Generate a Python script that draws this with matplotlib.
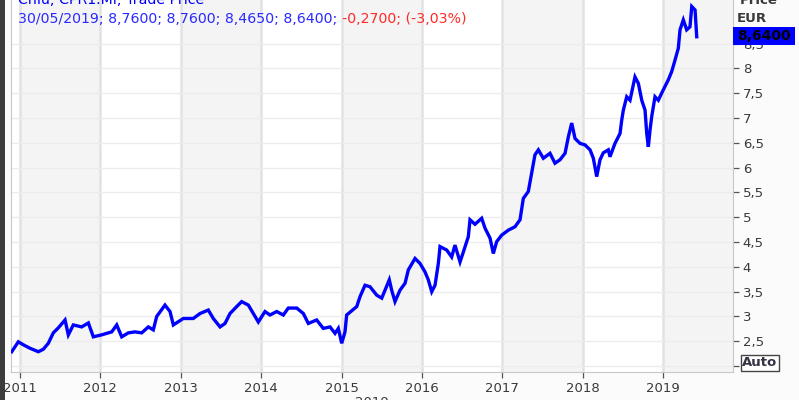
import matplotlib

matplotlib.use("Agg")
import matplotlib.pyplot as plt
from matplotlib.patches import Rectangle
from matplotlib.ticker import FuncFormatter

# decimal year / close price
years = [
    2010.897, 2010.979, 2011.041, 2011.124, 2011.228, 2011.290, 2011.352, 2011.414,
    2011.476, 2011.560, 2011.601, 2011.663, 2011.767, 2011.850, 2011.912, 2012.016,
    2012.141, 2012.203, 2012.265, 2012.347, 2012.430, 2012.514, 2012.596, 2012.658,
    2012.700, 2012.803, 2012.866, 2012.907, 2013.031, 2013.155, 2013.239, 2013.342,
    2013.404, 2013.488, 2013.550, 2013.612, 2013.695, 2013.757, 2013.840, 2013.902,
    2013.964, 2014.047, 2014.109, 2014.193, 2014.275, 2014.337, 2014.442, 2014.524,
    2014.586, 2014.690, 2014.772, 2014.856, 2014.918, 2014.959, 2015.001, 2015.042,
    2015.063, 2015.188, 2015.229, 2015.291, 2015.353, 2015.437, 2015.499, 2015.540,
    2015.593, 2015.623, 2015.664, 2015.726, 2015.789, 2015.830, 2015.913, 2015.975,
    2016.037, 2016.078, 2016.121, 2016.162, 2016.203, 2016.224, 2016.307, 2016.369,
    2016.410, 2016.473, 2016.514, 2016.576, 2016.597, 2016.659, 2016.742, 2016.784,
    2016.846, 2016.887, 2016.929, 2016.991, 2017.073, 2017.157, 2017.219, 2017.260,
    2017.322, 2017.364, 2017.405, 2017.447, 2017.509, 2017.592, 2017.654, 2017.716,
    2017.779, 2017.820, 2017.862, 2017.903, 2017.965, 2018.027, 2018.090, 2018.131,
    2018.173, 2018.214, 2018.255, 2018.317, 2018.338, 2018.400, 2018.463, 2018.484,
    2018.504, 2018.546, 2018.587, 2018.649, 2018.691, 2018.733, 2018.774, 2018.795,
    2018.815, 2018.836, 2018.857, 2018.898, 2018.939, 2019.001, 2019.063, 2019.106,
    2019.147, 2019.188, 2019.209, 2019.250, 2019.292, 2019.333, 2019.355, 2019.396,
    2019.417,
]
price = [
    2.29, 2.49, 2.43, 2.36, 2.29, 2.34, 2.46, 2.67,
    2.77, 2.93, 2.63, 2.83, 2.79, 2.87, 2.59, 2.63,
    2.69, 2.83, 2.59, 2.67, 2.69, 2.67, 2.79, 2.73,
    3.00, 3.23, 3.10, 2.83, 2.96, 2.96, 3.06, 3.13,
    2.96, 2.79, 2.86, 3.06, 3.20, 3.30, 3.23, 3.06,
    2.89, 3.10, 3.03, 3.10, 3.03, 3.17, 3.17, 3.06,
    2.86, 2.93, 2.76, 2.79, 2.66, 2.76, 2.46, 2.69,
    3.03, 3.20, 3.40, 3.63, 3.60, 3.43, 3.37, 3.53,
    3.74, 3.53, 3.30, 3.53, 3.67, 3.94, 4.17, 4.07,
    3.90, 3.74, 3.50, 3.63, 4.07, 4.41, 4.34, 4.20,
    4.44, 4.10, 4.30, 4.61, 4.95, 4.86, 4.98, 4.78,
    4.58, 4.27, 4.51, 4.64, 4.74, 4.81, 4.95, 5.38,
    5.52, 5.89, 6.26, 6.36, 6.19, 6.29, 6.09, 6.16,
    6.29, 6.62, 6.90, 6.59, 6.49, 6.46, 6.36, 6.19,
    5.82, 6.16, 6.30, 6.36, 6.22, 6.49, 6.69, 6.96,
    7.16, 7.43, 7.36, 7.83, 7.70, 7.36, 7.16, 6.69,
    6.42, 6.76, 7.03, 7.43, 7.36, 7.57, 7.77, 7.94,
    8.17, 8.41, 8.78, 8.98, 8.78, 8.84, 9.25, 9.18,
    8.64,
]
year_ticks = [2011, 2012, 2013, 2014, 2015, 2016, 2017, 2018, 2019]
price_ticks = [2, 2.5, 3, 3.5, 4, 4.5, 5, 5.5, 6, 6.5, 7, 7.5, 8, 8.5]

W, H = 799, 400
TXT = "#3a3a3a"
BLUE = "#0000ff"

plt.rcParams["font.family"] = ["DejaVu Sans"]

fig = plt.figure(figsize=(W / 100, H / 100), dpi=100)
fig.patch.set_facecolor("#fbfbfb")

ax = fig.add_axes([11 / W, 28 / H, 722 / W, 372 / H])
ax.set_facecolor("white")
ax.set_xlim(2010.888, 2019.868)
ax.set_ylim(1.881, 9.381)

# alternating year bands
for i, y in enumerate(year_ticks):
    if i % 2 == 0:
        ax.axvspan(y, y + 1, color="#f4f4f4", zorder=0, lw=0)
for y in year_ticks:
    ax.axvline(y, color="#e2e2e2", lw=1.8, zorder=1)
for p in price_ticks:
    ax.axhline(p, color="#ececec", lw=1.0, zorder=1)

ax.plot(years, price, color=BLUE, lw=2.4, zorder=3, solid_joinstyle="miter")

ax.set_xticks(year_ticks)
ax.set_xticklabels([str(y) for y in year_ticks])
ax.set_yticks(price_ticks)
ax.yaxis.set_major_formatter(FuncFormatter(lambda v, _: f"{v:g}".replace(".", ",")))
ax.yaxis.tick_right()
ax.tick_params(axis="both", direction="out", length=4, width=0.9, color="#555555",
               labelsize=9.5, labelcolor=TXT)
ax.tick_params(axis="y", pad=3)
ax.tick_params(axis="x", pad=3)
ax.get_yticklabels()[0].set_visible(False)
for side in ("left", "bottom", "right"):
    ax.spines[side].set_color("#c8c8c8")
ax.spines["top"].set_visible(False)

# dark strip on the left edge
fig.patches.append(Rectangle((0, 0), 5 / W, 1, transform=fig.transFigure,
                             facecolor="#3c3c3c", edgecolor="none"))

# header lines
fig.text(18 / W, 1 - 0 / H, "Chiu; CPR1.MI; Trade Price", color=BLUE, fontsize=10.2,
         ha="left", va="center")
t1 = fig.text(18 / W, 1 - 19 / H, "30/05/2019; 8,7600; 8,7600; 8,4650; 8,6400; ",
              color="#2a2aff", fontsize=10.2, ha="left", va="center")
fig.canvas.draw()
bb = t1.get_window_extent()
fig.text(bb.x1 / W, 1 - 19 / H, "-0,2700; (-3,03%)", color="#ff2a2a", fontsize=10.2,
         ha="left", va="center")

# right axis header
fig.text(740 / W, 1 - 0 / H, "Price", color=TXT, fontsize=9.5, ha="left", va="center",
         weight="bold")
fig.text(737 / W, 1 - 19 / H, "EUR", color=TXT, fontsize=9.5, ha="left", va="center",
         weight="bold")

# last value marker
fig.patches.append(Rectangle((733 / W, 1 - 45 / H), 62 / W, 18 / H, transform=fig.transFigure,
                             facecolor=BLUE, edgecolor="none"))
fig.text(764 / W, 1 - 36 / H, "8,6400", color="black", fontsize=10, ha="center",
         va="center", weight="bold")

fig.text(760 / W, 1 - 363 / H, "Auto", color="#333344", fontsize=9.5, ha="center",
         va="center", weight="bold",
         bbox=dict(boxstyle="square,pad=0.12", facecolor="white", edgecolor="#444444", lw=1))

fig.text(372 / W, 1 - 396 / H, "2019", color=TXT, fontsize=9.5, ha="center", va="top")

fig.savefig("out.png", dpi=100, facecolor=fig.get_facecolor())
